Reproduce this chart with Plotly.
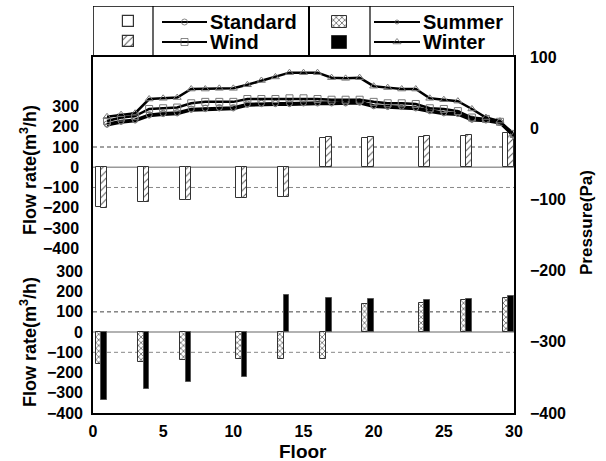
import plotly.graph_objects as go

# ---------------- data ----------------
bar_floors = [1, 4, 7, 11, 14, 17, 20, 24, 27, 30]
flow_standard = [-198, -173, -160, -153, -148, 145, 145, 148, 156, 168]
flow_wind = [-203, -173, -160, -153, -148, 148, 148, 152, 160, 168]
flow_summer = [-160, -147, -140, -135, -135, -135, 137, 143, 157, 171]
flow_winter = [-338, -283, -249, -224, 185, 170, 163, 160, 163, 178]

floors = list(range(1, 31))
p_standard = [6, 10, 12, 19, 21, 22, 27, 28, 29, 29, 34, 35, 35, 35, 36,
              36, 36, 36, 37, 32, 31, 31, 29, 25, 22, 21, 13, 12, 8, -10]
p_wind = [10, 15, 17, 27, 28, 29, 35, 37, 37, 37, 41, 41, 41, 42, 42,
          41, 40, 40, 40, 37, 35, 35, 34, 28, 27, 24, 15, 13, 9, -8]
p_summer = [4, 8, 10, 17, 19, 20, 25, 26, 27, 27, 32, 33, 33, 33, 34,
            34, 34, 34, 35, 30, 29, 29, 27, 23, 20, 19, 11, 10, 7, -12]
p_winter = [16, 19, 21, 41, 42, 43, 55, 55, 56, 56, 61, 67, 72, 78, 78,
            78, 71, 70, 71, 59, 57, 55, 55, 42, 40, 38, 27, 15, 10, -10]

flow_ticks = [-400, -300, -200, -100, 0, 100, 200, 300]
press_ticks = [-400, -300, -200, -100, 0, 100]
x_ticks = [0, 5, 10, 15, 20, 25, 30]

# ---------------- layout geometry ----------------
W, H = 606, 461
L, R, T, B = 93, 514, 6, 48
PT = 57  # top of plot frame
pw, ph = R - L, H - B - T
dom_top = (H - B - PT) / ph

FONT = "Liberation Sans, Arial, sans-serif"
OUT = "#333333"

def px(x):
    return (x - L) / pw

def py(y):
    return (H - B - y) / ph

fig = go.Figure()

# Flow bars, upper panel (Standard / Wind)
fig.add_trace(go.Bar(x=bar_floors, y=flow_standard, width=0.4, offset=-0.8,
                     marker=dict(color="white", line=dict(color=OUT, width=1)),
                     xaxis="x", yaxis="y", showlegend=False))
fig.add_trace(go.Bar(x=bar_floors, y=flow_wind, width=0.4, offset=-0.4,
                     marker=dict(color="white", line=dict(color=OUT, width=1),
                                 pattern=dict(shape="/", fgcolor="#555555", bgcolor="white",
                                              size=5, solidity=0.2)),
                     xaxis="x", yaxis="y", showlegend=False))
# Flow bars, lower panel (Summer / Winter)
fig.add_trace(go.Bar(x=bar_floors, y=flow_summer, width=0.4, offset=-0.8,
                     marker=dict(color="white", line=dict(color=OUT, width=1),
                                 pattern=dict(shape="x", fgcolor="#444444", bgcolor="white",
                                              size=4, solidity=0.3)),
                     xaxis="x", yaxis="y2", showlegend=False))
fig.add_trace(go.Bar(x=bar_floors, y=flow_winter, width=0.4, offset=-0.4,
                     marker=dict(color="black", line=dict(color="#555555", width=1)),
                     xaxis="x", yaxis="y2", showlegend=False))

# Pressure lines
line_specs = [
    (p_summer, "circle-open", 4),
    (p_standard, "circle-open", 6),
    (p_wind, "square-open", 7),
    (p_winter, "triangle-up-open", 7),
]
for vals, sym, sz in line_specs:
    fig.add_trace(go.Scatter(x=floors, y=vals, mode="lines+markers",
                             line=dict(color="black", width=2.5),
                             marker=dict(symbol=sym, size=sz, color="#777777",
                                         line=dict(color="#777777", width=1)),
                             xaxis="x", yaxis="y3", showlegend=False))

# ---------------- custom legend (pixel-unit axes above plot) ----------------
fig.add_trace(go.Bar(x=[128], base=[16], y=[11], width=[11],
                     marker=dict(color="white", line=dict(color=OUT, width=1.2)),
                     xaxis="x2", yaxis="y4", showlegend=False))
fig.add_trace(go.Bar(x=[128], base=[36], y=[11], width=[11],
                     marker=dict(color="white", line=dict(color=OUT, width=1.2),
                                 pattern=dict(shape="/", fgcolor="#555555", bgcolor="white",
                                              size=5, solidity=0.2)),
                     xaxis="x2", yaxis="y4", showlegend=False))
fig.add_trace(go.Bar(x=[339], base=[16], y=[12], width=[15],
                     marker=dict(color="white", line=dict(color=OUT, width=1),
                                 pattern=dict(shape="x", fgcolor="#444444", bgcolor="white",
                                              size=4, solidity=0.3)),
                     xaxis="x2", yaxis="y4", showlegend=False))
fig.add_trace(go.Bar(x=[339], base=[36], y=[13], width=[15],
                     marker=dict(color="black", line=dict(color=OUT, width=1)),
                     xaxis="x2", yaxis="y4", showlegend=False))

leg_lines = [
    (162, 207, 22, "circle-open", 6, "Standard"),
    (162, 207, 42, "square-open", 7, "Wind"),
    (374, 420, 22, "circle-open", 4, "Summer"),
    (374, 420, 42, "triangle-up-open", 7, "Winter"),
]
annotations = []
for x0, x1, yy, sym, sz, name in leg_lines:
    xm = (x0 + x1) / 2
    fig.add_trace(go.Scatter(x=[x0, xm, x1], y=[yy, yy, yy], mode="lines+markers",
                             line=dict(color="black", width=2),
                             marker=dict(symbol=sym, size=[0, sz, 0], color="#555555",
                                         line=dict(color="#555555", width=1)),
                             xaxis="x2", yaxis="y4", showlegend=False))
    annotations.append(dict(x=x1 + 1, y=yy, xref="x2", yref="y4", text=name,
                            showarrow=False, xanchor="left", yanchor="middle",
                            font=dict(family=FONT, size=20, color="black", weight="bold")))

shapes = []
# legend box
shapes.append(dict(type="rect", xref="x2", yref="y4", x0=L, x1=R, y0=6, y1=PT,
                   line=dict(color="black", width=1.5)))
for xd, wd in [(153, 1.2), (309, 2), (370, 1.2)]:
    shapes.append(dict(type="line", xref="x2", yref="y4", x0=xd, x1=xd, y0=6, y1=PT,
                       line=dict(color="black", width=wd)))
# zero and ±100 reference lines in both flow panels
for yr in ["y", "y2"]:
    shapes.append(dict(type="line", xref="paper", yref=yr, x0=0, x1=1, y0=0, y1=0,
                       line=dict(color="#999999", width=1.5), layer="below"))
    for v, c in [(100, "#444444"), (-100, "#888888")]:
        shapes.append(dict(type="line", xref="paper", yref=yr, x0=0, x1=1, y0=v, y1=v,
                           line=dict(color=c, width=1, dash="4px,3px"), layer="below"))

# axis titles
title_font = dict(family=FONT, size=18, color="black", weight="bold")
common = dict(xref="paper", yref="paper", showarrow=False, xanchor="center", yanchor="middle")
annotations += [
    dict(x=px(28), y=py(170), text="Flow rate(m<sup>3</sup>/h)", textangle=-90,
         font=title_font, **common),
    dict(x=px(28), y=py(342), text="Flow rate(m<sup>3</sup>/h)", textangle=-90,
         font=title_font, **common),
    dict(x=px(586), y=py(223), text="Pressure(Pa)", textangle=-90,
         font=dict(family=FONT, size=17, color="black", weight="bold"), **common),
    dict(x=px(303), y=py(451), text="Floor", font=dict(family=FONT, size=19, color="black", weight="bold"), **common),
]

tick_font = dict(family=FONT, size=16, color="black", weight="bold")
fig.update_layout(
    template="none",
    width=W, height=H,
    margin=dict(l=L, r=W - R, t=T, b=B, pad=0, autoexpand=False),
    paper_bgcolor="white", plot_bgcolor="white",
    barmode="overlay", bargap=0,
    xaxis=dict(domain=[0, 1], range=[0, 30], tickvals=x_ticks, ticks="",
               tickfont=tick_font, showgrid=False, zeroline=False, automargin=False,
               showline=True, linecolor="black", linewidth=1.5, mirror=True,
               anchor="y3", ticklabelstandoff=3),
    yaxis=dict(domain=[0, dom_top], range=[-1215, 545], tickvals=flow_ticks, ticks="",
               tickfont=tick_font, showgrid=False, zeroline=False, automargin=False,
               showline=True, linecolor="black", linewidth=1.5,
               anchor="x", ticklabelstandoff=9),
    yaxis2=dict(domain=[0, dom_top], range=[-400, 1360], tickvals=flow_ticks, ticks="",
                tickfont=tick_font, showgrid=False, zeroline=False, showline=False,
                automargin=False, overlaying="y", side="left", anchor="x",
                ticklabelstandoff=9),
    yaxis3=dict(domain=[0, dom_top], range=[-400, 100], tickvals=press_ticks, ticks="",
                tickfont=tick_font, showgrid=False, zeroline=False, automargin=False,
                showline=True, linecolor="black", linewidth=1.5,
                overlaying="y", side="right", anchor="x", ticklabelstandoff=11),
    xaxis2=dict(domain=[0, 1], range=[L, R], visible=False, anchor="y4",
                fixedrange=True, automargin=False),
    yaxis4=dict(domain=[dom_top, 1], range=[PT, 6], visible=False, anchor="x2",
                fixedrange=True, automargin=False),
    shapes=shapes,
    annotations=annotations,
)

fig.write_html("out.html")
